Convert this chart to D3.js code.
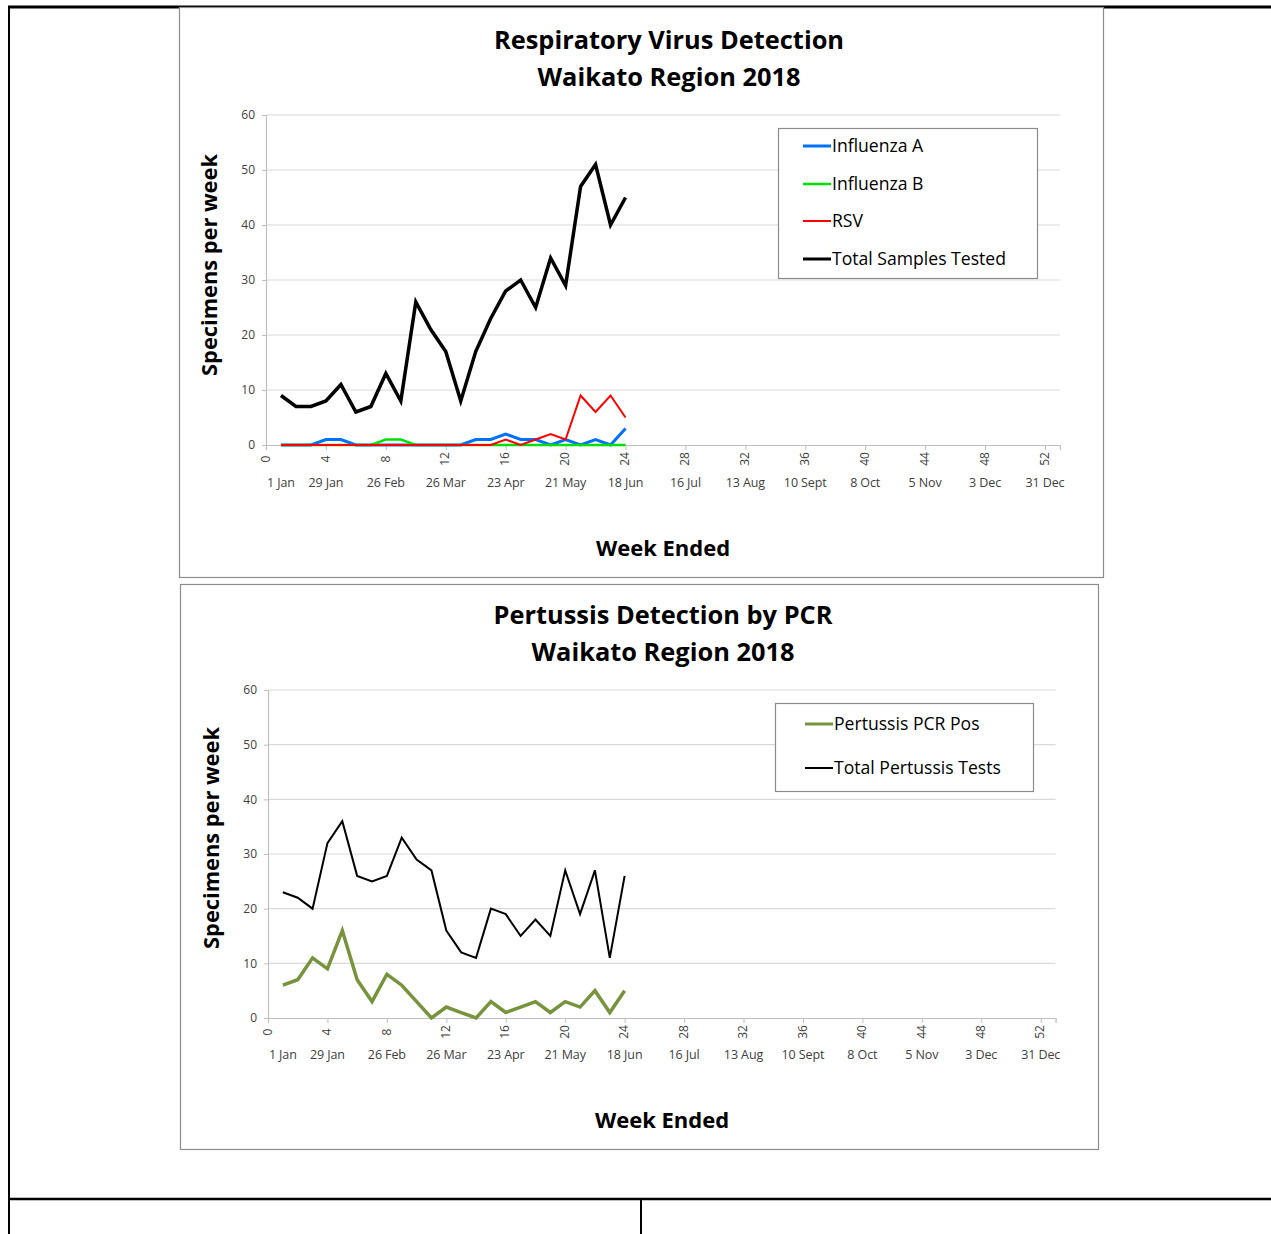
<!DOCTYPE html>
<html><head><meta charset="utf-8">
<script src="https://cdn.jsdelivr.net/npm/d3@7"></script>
<style>
body{margin:0;background:#fff;}
svg{display:block;font-family:"Open Sans",sans-serif;}
</style></head>
<body>
<svg id="c" width="1271" height="1234"></svg>
<script>
// ---------- data ----------
const weeks = d3.range(1, 25);
const xTicks = d3.range(0, 53, 4);
const dateLabels = ["1 Jan","29 Jan","26 Feb","26 Mar","23 Apr","21 May","18 Jun","16 Jul","13 Aug","10 Sept","8 Oct","5 Nov","3 Dec","31 Dec"];
const dateWeeks = [1,4,8,12,16,20,24,28,32,36,40,44,48,52];
const yTicks = [0,10,20,30,40,50,60];

const influenzaA = [0,0,0,1,1,0,0,0,0,0,0,0,0,1,1,2,1,1,0,1,0,1,0,3];
const influenzaB = [0,0,0,0,0,0,0,1,1,0,0,0,0,0,0,0,0,0,0,0,0,0,0,0];
const rsv        = [0,0,0,0,0,0,0,0,0,0,0,0,0,0,0,1,0,1,2,1,9,6,9,5];
const totalSamples = [9,7,7,8,11,6,7,13,8,26,21,17,8,17,23,28,30,25,34,29,47,51,40,45];

const pertussisPos   = [6,7,11,9,16,7,3,8,6,3,0,2,1,0,3,1,2,3,1,3,2,5,1,5];
const pertussisTotal = [23,22,20,32,36,26,25,26,33,29,27,16,12,11,20,19,15,18,15,27,19,27,11,26];

const svg = d3.select("#c");

// page frame lines
const frame = svg.append("g").attr("stroke","#000").attr("fill","none");
frame.append("line").attr("x1",8).attr("x2",1271).attr("y1",7).attr("y2",7).attr("stroke-width",3);
frame.append("line").attr("x1",9).attr("x2",9).attr("y1",6).attr("y2",1234).attr("stroke-width",2);
frame.append("line").attr("x1",8).attr("x2",1271).attr("y1",1199).attr("y2",1199).attr("stroke-width",2.5);
frame.append("line").attr("x1",641).attr("x2",641).attr("y1",1199).attr("y2",1234).attr("stroke-width",2);

function drawChart(cfg){
  const g = svg.append("g");
  g.append("rect").attr("x",cfg.box[0]+0.5).attr("y",cfg.box[1]+0.5)
   .attr("width",cfg.box[2]-cfg.box[0]).attr("height",cfg.box[3]-cfg.box[1])
   .attr("fill","#fff").attr("stroke","#8c8c8c").attr("stroke-width",1.2);

  const x = d3.scaleLinear().domain([0,53]).range([cfg.x0, cfg.x0 + 53*cfg.pxw]);
  const y = d3.scaleLinear().domain([0,60]).range([cfg.y0, cfg.y60]);

  // gridlines
  g.append("g").selectAll("line").data(yTicks.filter(d=>d>0)).join("line")
    .attr("x1",x(0)).attr("x2",x(53)).attr("y1",d=>y(d)).attr("y2",d=>y(d))
    .attr("stroke","#d9d9d9").attr("stroke-width",1.2);

  // y axis
  const ya = g.append("g").attr("transform",`translate(${x(0)},0)`)
    .call(d3.axisLeft(y).tickValues(yTicks).tickSize(4).tickPadding(7));
  ya.select(".domain").attr("stroke","#bfbfbf").attr("stroke-width",1.2);
  ya.selectAll(".tick line").attr("stroke","#bfbfbf");
  ya.selectAll("text").attr("font-size",12).attr("fill","#404040").attr("font-family","Open Sans");

  // x axis
  const xa = g.append("g").attr("transform",`translate(0,${y(0)})`)
    .call(d3.axisBottom(x).tickValues(xTicks).tickSize(5).tickFormat(d3.format("d")));
  xa.select(".domain").attr("stroke","#bfbfbf").attr("stroke-width",1.2);
  xa.selectAll(".tick line").attr("stroke","#bfbfbf");
  xa.selectAll("text").attr("font-size",12).attr("fill","#404040").attr("font-family","Open Sans")
    .attr("text-anchor","middle").attr("dy",null).attr("y",null)
    .attr("transform","translate(0,14) rotate(-90)").attr("dominant-baseline","middle");

  // date labels
  g.append("g").selectAll("text").data(dateWeeks).join("text")
    .attr("x",d=>x(d)).attr("y",cfg.dateY).attr("text-anchor","middle")
    .attr("font-size",12.5).attr("fill","#404040").attr("letter-spacing","-0.1")
    .text((d,i)=>dateLabels[i]);

  // series
  const line = d3.line().x((d,i)=>x(weeks[i])).y(d=>y(d));
  cfg.series.forEach(s=>{
    g.append("path").datum(s.values).attr("d",line).attr("fill","none")
      .attr("stroke",s.color).attr("stroke-width",s.width).attr("stroke-linejoin","miter");
  });

  // legend
  const L = cfg.legend;
  g.append("rect").attr("x",L.box[0]+0.5).attr("y",L.box[1]+0.5).attr("width",L.box[2]-L.box[0]).attr("height",L.box[3]-L.box[1])
    .attr("fill","#fff").attr("stroke","#8c8c8c").attr("stroke-width",1.2);
  cfg.series.slice().sort((a,b)=>a.order-b.order).forEach((s,i)=>{
    const ly = L.y[i];
    g.append("line").attr("x1",L.lx).attr("x2",L.lx+28).attr("y1",ly).attr("y2",ly)
      .attr("stroke",s.color).attr("stroke-width",s.legendWidth||s.width);
    g.append("text").attr("x",L.lx+29).attr("y",ly).attr("dy","0.35em")
      .attr("font-size",17.6).attr("fill","#000").text(s.name);
  });

  // titles
  cfg.title.forEach((t,i)=>{
    g.append("text").attr("x",cfg.titleX).attr("y",cfg.titleY[i]).attr("text-anchor","middle")
      .attr("font-size",25.4).attr("font-weight","bold").attr("fill","#000").attr("dy","0.35em").text(t);
  });
  g.append("text").attr("transform",`translate(${cfg.yTitle[0]},${cfg.yTitle[1]}) rotate(-90)`)
    .attr("text-anchor","middle").attr("dy","0.35em").attr("font-size",21.8).attr("font-weight","bold").text("Specimens per week");
  g.append("text").attr("x",cfg.xTitle[0]).attr("y",cfg.xTitle[1]).attr("text-anchor","middle")
    .attr("dy","0.35em").attr("font-size",22).attr("font-weight","bold").text("Week Ended");
}

drawChart({
  box:[179,7,1103,577],
  x0:266, pxw:14.98, y0:445, y60:115,
  dateY:487,
  title:["Respiratory Virus Detection","Waikato Region 2018"], titleX:669, titleY:[40,77],
  yTitle:[209,265], xTitle:[663,548],
  series:[
    {name:"Total Samples Tested", values:totalSamples, color:"#000000", width:3.5, legendWidth:3, order:3},
    {name:"Influenza A", values:influenzaA, color:"#0070ff", width:3, order:0},
    {name:"Influenza B", values:influenzaB, color:"#00e000", width:2.5, order:1},
    {name:"RSV", values:rsv, color:"#ff0000", width:2, order:2}
  ],
  legend:{box:[778,128,1037,278], lx:803, y:[146,184,221,259]}
});

drawChart({
  box:[180,584,1098,1149],
  x0:268, pxw:14.86, y0:1018, y60:690,
  dateY:1059,
  title:["Pertussis Detection by PCR","Waikato Region 2018"], titleX:663, titleY:[615,652],
  yTitle:[211,838], xTitle:[662,1120],
  series:[
    {name:"Total Pertussis Tests", values:pertussisTotal, color:"#000000", width:2, order:1},
    {name:"Pertussis PCR Pos", values:pertussisPos, color:"#77933c", width:3.5, legendWidth:3, order:0}
  ],
  legend:{box:[775,703,1033,791], lx:805, y:[724,768]}
});
</script>
</body></html>
